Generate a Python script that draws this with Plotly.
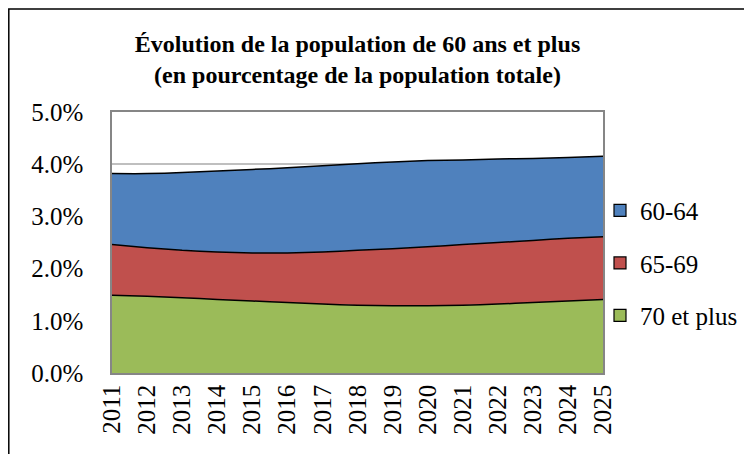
import plotly.graph_objects as go

years = [str(y) for y in range(2011, 2026)]
# cumulative boundaries (in %)
total_top = [3.82, 3.82, 3.84, 3.87, 3.90, 3.93, 3.97, 4.01, 4.04, 4.07, 4.08, 4.10, 4.11, 4.13, 4.15]
red_top = [2.46, 2.40, 2.35, 2.32, 2.30, 2.30, 2.32, 2.35, 2.38, 2.42, 2.46, 2.50, 2.54, 2.58, 2.61]
plus70 = [1.49, 1.47, 1.44, 1.41, 1.38, 1.35, 1.32, 1.30, 1.29, 1.29, 1.30, 1.32, 1.35, 1.38, 1.41]

age6569 = [r - g for r, g in zip(red_top, plus70)]
age6064 = [t - r for t, r in zip(total_top, red_top)]

series = [
    ("70 et plus", [v / 100 for v in plus70], "#9BBB59"),
    ("65-69", [v / 100 for v in age6569], "#C0504D"),
    ("60-64", [v / 100 for v in age6064], "#4F81BD"),
]

fig = go.Figure()
for name, vals, col in series:
    fig.add_trace(go.Scatter(
        x=years, y=vals, name=name, stackgroup="one", mode="lines",
        line=dict(color="black", width=1.5, shape="spline", smoothing=0.6),
        fillcolor=col, showlegend=False,
    ))
# legend entries (square swatches)
for name, vals, col in reversed(series):
    fig.add_trace(go.Bar(
        x=[years[0]], y=[None], name=name, legendgroup=name,
        marker=dict(color=col, line=dict(color="black", width=1.2)),
        showlegend=True,
    ))

font = "Liberation Serif"
W, H = 744, 446
l, r, t, b = 104, 149, 104, 81
pw, ph = W - l - r, H - t - b

fig.update_layout(
    width=W, height=H,
    margin=dict(l=l, r=r, t=t, b=b, autoexpand=False),
    paper_bgcolor="white", plot_bgcolor="white",
    font=dict(family=font, size=25, color="black"),
    title=dict(
        text="<b>Évolution de la population de 60 ans et plus<br>(en pourcentage de la population totale)</b>",
        x=0.5, xanchor="center", xref="paper", y=1 - 44 / H, yanchor="middle",
        font=dict(family=font, size=24, color="black"),
    ),
    showlegend=True,
    legend=dict(
        x=1 - 3 / pw, xanchor="left", y=0.71, yanchor="top",
        traceorder="grouped", tracegroupgap=17,
        font=dict(family=font, size=25, color="black"),
        itemwidth=30, bgcolor="rgba(0,0,0,0)",
    ),
    xaxis=dict(
        type="category", range=[0, len(years) - 1],
        tickangle=-90, showgrid=False, showline=True, linecolor="#868686", linewidth=1.5,
        ticks="", tickfont=dict(family=font, size=25), mirror=True,
    ),
    yaxis=dict(
        range=[0, 0.05], dtick=0.01, tickformat=".1%",
        showgrid=True, gridcolor="#BFBFBF", gridwidth=1.5,
        showline=True, linecolor="#868686", linewidth=1.5, mirror=True,
        ticks="", ticklabelstandoff=22, tickfont=dict(family=font, size=25),
        zeroline=False,
    ),
    shapes=[
        dict(type="rect", xref="paper", yref="paper",
             x0=(0.8 - l) / pw, x1=(740 - l) / pw,
             y0=-0.6, y1=1 + (t - 1) / ph,
             line=dict(color="black", width=1.5), layer="above"),
        dict(type="line", xref="x", yref="y",
             x0=years[-1], x1=years[-1], y0=0, y1=total_top[-1] / 100,
             line=dict(color="black", width=1.5), layer="above"),
    ],
)

fig.write_html("out.html")
